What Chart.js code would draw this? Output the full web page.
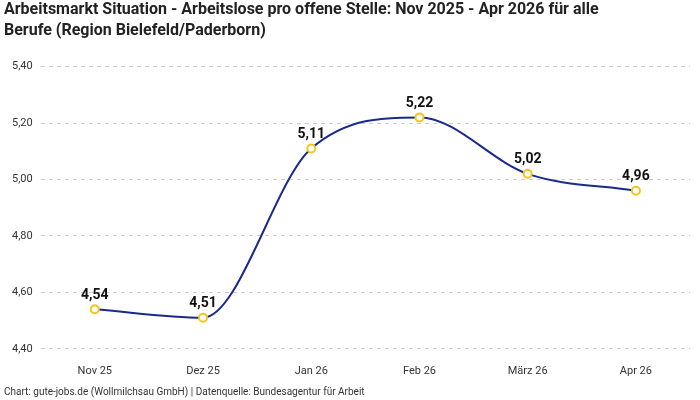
<!DOCTYPE html>
<html lang="de">
<head>
<meta charset="UTF-8">
<title>Arbeitsmarkt Situation</title>
<style>
    body { margin: 0; background: #ffffff; }
    #wrap { width: 700px; height: 400px; }
</style>
</head>
<body>
<div id="wrap"><canvas id="chart"></canvas></div>
<script src="https://cdn.jsdelivr.net/npm/chart.js"></script>
<script>
    const months = ['Nov 25', 'Dez 25', 'Jan 26', 'Feb 26', 'März 26', 'Apr 26'];
    const ratio = [4.54, 4.51, 5.11, 5.22, 5.02, 4.96];

    const fmt = v => v.toFixed(2).replace('.', ',');

    // Werte über den Punkten zeichnen
    const valueLabels = {
        id: 'valueLabels',
        afterDatasetsDraw(chart) {
            const ctx = chart.ctx;
            const meta = chart.getDatasetMeta(0);
            ctx.save();
            ctx.font = 'bold 14px Roboto';
            ctx.fillStyle = '#111111';
            ctx.textAlign = 'center';
            ctx.textBaseline = 'bottom';
            meta.data.forEach((pt, i) => {
                ctx.fillText(fmt(ratio[i]), pt.x, pt.y - 7);
            });
            ctx.restore();
        }
    };

    new Chart(document.getElementById('chart'), {
        type: 'line',
        data: {
            labels: months,
            datasets: [{
                data: ratio,
                borderColor: '#1a2a8c',
                borderWidth: 2,
                cubicInterpolationMode: 'monotone',
                pointRadius: 4,
                pointBorderWidth: 2,
                pointBackgroundColor: '#ffffff',
                pointBorderColor: '#f5c518'
            }]
        },
        options: {
            responsive: true,
            maintainAspectRatio: false,
            animation: false,
            layout: { padding: { left: 4, right: 10, top: 0, bottom: 0 } },
            scales: {
                x: {
                    offset: true,
                    grid: { display: false },
                    border: { display: false },
                    ticks: { color: '#333', padding: 8, font: { family: 'Roboto', size: 11 } }
                },
                y: {
                    min: 4.4,
                    max: 5.4,
                    border: { display: false, dash: [4, 4] },
                    grid: { color: '#cccccc', tickLength: 0 },
                    ticks: {
                        stepSize: 0.2,
                        color: '#333',
                        padding: 8,
                        font: { family: 'Roboto', size: 11 },
                        callback: v => fmt(v)
                    }
                }
            },
            plugins: {
                legend: { display: false },
                tooltip: { enabled: false },
                title: {
                    display: true,
                    align: 'start',
                    color: '#222',
                    text: ['Arbeitsmarkt Situation - Arbeitslose pro offene Stelle: Nov 2025 - Apr 2026 für alle', 'Berufe (Region Bielefeld/Paderborn)'],
                    font: { family: 'Roboto', size: 16, weight: 'bold', lineHeight: 1.3 },
                    padding: { top: 0, bottom: 25 }
                },
                subtitle: {
                    display: true,
                    position: 'bottom',
                    align: 'start',
                    color: '#333',
                    text: 'Chart: gute-jobs.de (Wollmilchsau GmbH) | Datenquelle: Bundesagentur für Arbeit',
                    font: { family: 'Roboto', size: 10 },
                    padding: { top: 0, bottom: 2 }
                }
            }
        },
        plugins: [valueLabels]
    });
</script>
</body>
</html>
